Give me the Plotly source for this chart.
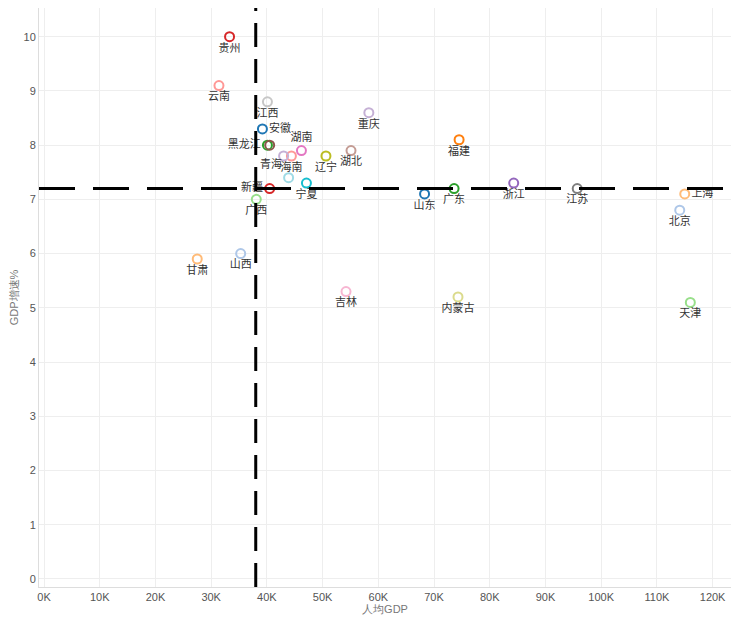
import plotly.graph_objects as go

provinces = ["贵州", "云南", "江西", "安徽", "黑龙江", "", "湖南", "海南", "", "辽宁", "湖北",
             "重庆", "福建", "青海", "新疆", "宁夏", "广西", "山东", "广东", "浙江", "江苏",
             "上海", "北京", "甘肃", "山西", "吉林", "内蒙古", "天津"]
gdp_per_capita = [33.3, 31.4, 40.1, 39.2, 40.1, 40.5, 46.2, 44.4, 43.0, 50.6, 55.1,
                  58.3, 74.5, 43.9, 40.5, 47.1, 38.1, 68.3, 73.6, 84.3, 95.7,
                  115.0, 114.1, 27.5, 35.3, 54.2, 74.3, 116.0]
gdp_growth = [10.0, 9.1, 8.8, 8.3, 8.0, 8.0, 7.9, 7.8, 7.8, 7.8, 7.9,
              8.6, 8.1, 7.4, 7.2, 7.3, 7.0, 7.1, 7.2, 7.3, 7.2,
              7.1, 6.8, 5.9, 6.0, 5.3, 5.2, 5.1]
colors = ["#d62728", "#ff9896", "#c7c7c7", "#1f77b4", "#2ca02c", "#8c564b", "#e377c2", "#ff9896",
          "#c5b0d5", "#bcbd22", "#c49c94", "#c5b0d5", "#ff7f0e", "#9edae5", "#d62728", "#17becf",
          "#98df8a", "#1f77b4", "#2ca02c", "#9467bd", "#7f7f7f", "#ffbb78", "#aec7e8", "#ffbb78",
          "#aec7e8", "#f7b6d2", "#dbdb8d", "#98df8a"]
positions = ["bottom center"] * len(provinces)
positions[provinces.index("黑龙江")] = "middle left"
positions[provinces.index("安徽")] = "middle right"
positions[provinces.index("湖南")] = "top center"
positions[provinces.index("青海")] = "top left"
positions[provinces.index("新疆")] = "middle left"
positions[provinces.index("上海")] = "middle right"

avg_x = 38.0
avg_y = 7.2

fig = go.Figure()
fig.add_trace(go.Scatter(
    x=[v * 1000 for v in gdp_per_capita], y=gdp_growth, mode="markers+text",
    text=provinces, textposition=positions,
    textfont=dict(family="Noto Sans CJK SC", size=11, color="#333"),
    marker=dict(symbol="circle-open", size=9, color=colors, line=dict(width=2, color=colors)),
    showlegend=False, cliponaxis=False,
))
fig.add_vline(x=avg_x * 1000, line=dict(color="black", width=3, dash="24px,12px"))
fig.add_hline(y=avg_y, line=dict(color="black", width=3, dash="36px,18px"))

fig.update_layout(
    width=741, height=621, plot_bgcolor="white", paper_bgcolor="white",
    margin=dict(l=31, r=18, t=0, b=42),
    font=dict(family="Liberation Sans", size=11, color="#555"),
    xaxis=dict(range=[-900, 123300], tickvals=[i * 10000 for i in range(13)],
               ticktext=[f"{i * 10}K" for i in range(13)],
               showgrid=True, gridcolor="#eeeeee", zeroline=False,
               showline=True, linecolor="#ddd",
               title=dict(text="人均GDP", standoff=2, font=dict(size=11, color="#777"))),
    yaxis=dict(range=[-0.15, 10.53], dtick=1, showgrid=True, gridcolor="#eeeeee",
               zeroline=False, showline=True, linecolor="#ddd",
               title=dict(text="GDP增速%", standoff=4, font=dict(size=11, color="#777"))),
)
fig.write_html("out.html")
